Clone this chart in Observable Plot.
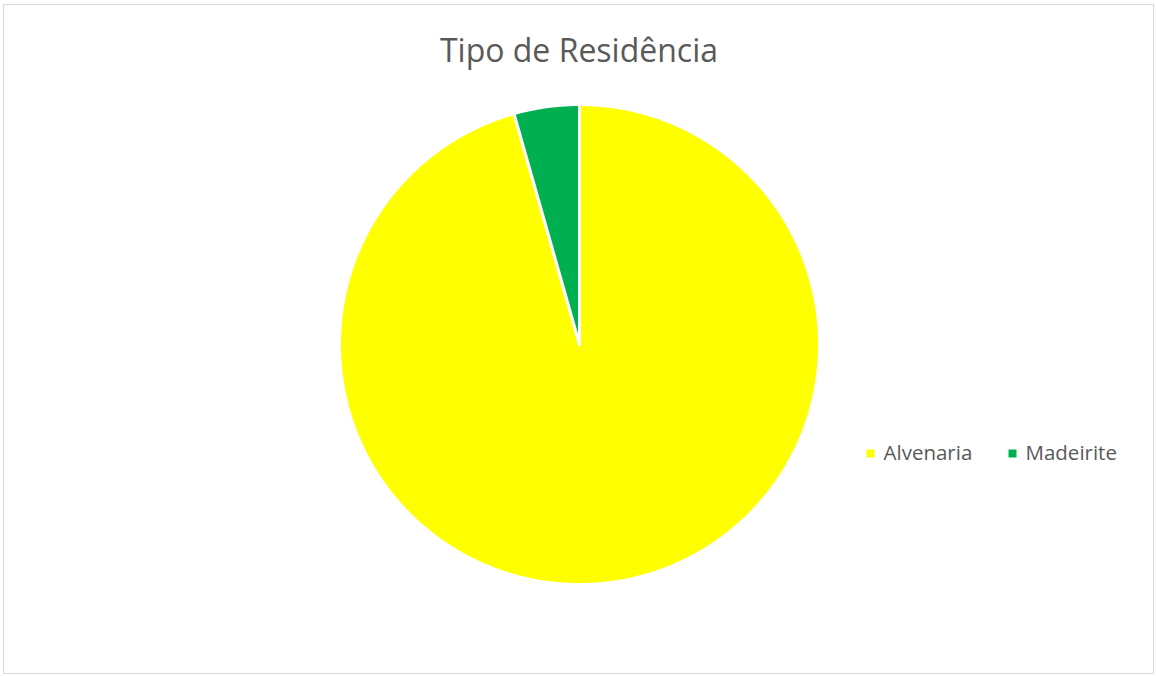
<!DOCTYPE html>
<html>
<head>
<meta charset="utf-8">
<script src="https://cdn.jsdelivr.net/npm/d3@7"></script>
<script src="https://cdn.jsdelivr.net/npm/@observablehq/plot@0.6"></script>
<style>
  html, body { margin: 0; padding: 0; background: #fff; }
  #frame { position: absolute; left: 3px; top: 4px; width: 1149px; height: 668px; border: 1.5px solid #d9d9d9; }
  #title { position: absolute; left: 0; top: 0; width: 1158px; height: 80px; text-align: center;
           font-family: "Open Sans", sans-serif; font-size: 32px; color: #595959; line-height: 99px; }
  #chart { position: absolute; left: 0; top: 80px; }
</style>
</head>
<body>
<div id="frame"></div>
<div id="title">Tipo de Residência</div>
<div id="chart"></div>
<script>
const categories = ["Alvenaria", "Madeirite"];
const values = [95.6, 4.4];
const colors = ["#ffff00", "#00b050"];

const W = 1156, H = 596;
const cx = 579, cy = 264, R = 240;

const arcs = d3.pie().sort(null)(values);
const slicePts = [];
arcs.forEach((a, i) => {
  const n = Math.max(4, Math.ceil((a.endAngle - a.startAngle) * 120));
  slicePts.push({cat: categories[i], x: cx, y: cy});
  for (let k = 0; k <= n; k++) {
    const t = a.startAngle + (a.endAngle - a.startAngle) * k / n;
    slicePts.push({cat: categories[i], x: cx + R * Math.sin(t), y: cy - R * Math.cos(t)});
  }
  slicePts.push({cat: categories[i], x: cx, y: cy});
});

const legend = categories.map((c, i) => ({cat: c, x: [870, 1012][i], y: 373}));

const plot = Plot.plot({
  width: W, height: H,
  margin: 0,
  x: {domain: [0, W], range: [0, W], axis: null},
  y: {domain: [0, H], range: [0, H], axis: null},
  color: {domain: categories, range: colors},
  style: {fontFamily: "Open Sans, sans-serif", background: "transparent"},
  marks: [
    Plot.line(slicePts, {x: "x", y: "y", z: "cat", fill: "cat", stroke: "#ffffff", strokeWidth: 3, strokeLinejoin: "miter"}),
    Plot.dot(legend, {x: "x", y: "y", symbol: "square", r: 4.5, fill: "cat", stroke: null}),
    Plot.text(legend, {x: d => d.x + 13, y: "y", text: "cat", textAnchor: "start", fontSize: 20.5, fill: "#595959"})
  ]
});
document.getElementById("chart").appendChild(plot);
</script>
</body>
</html>
